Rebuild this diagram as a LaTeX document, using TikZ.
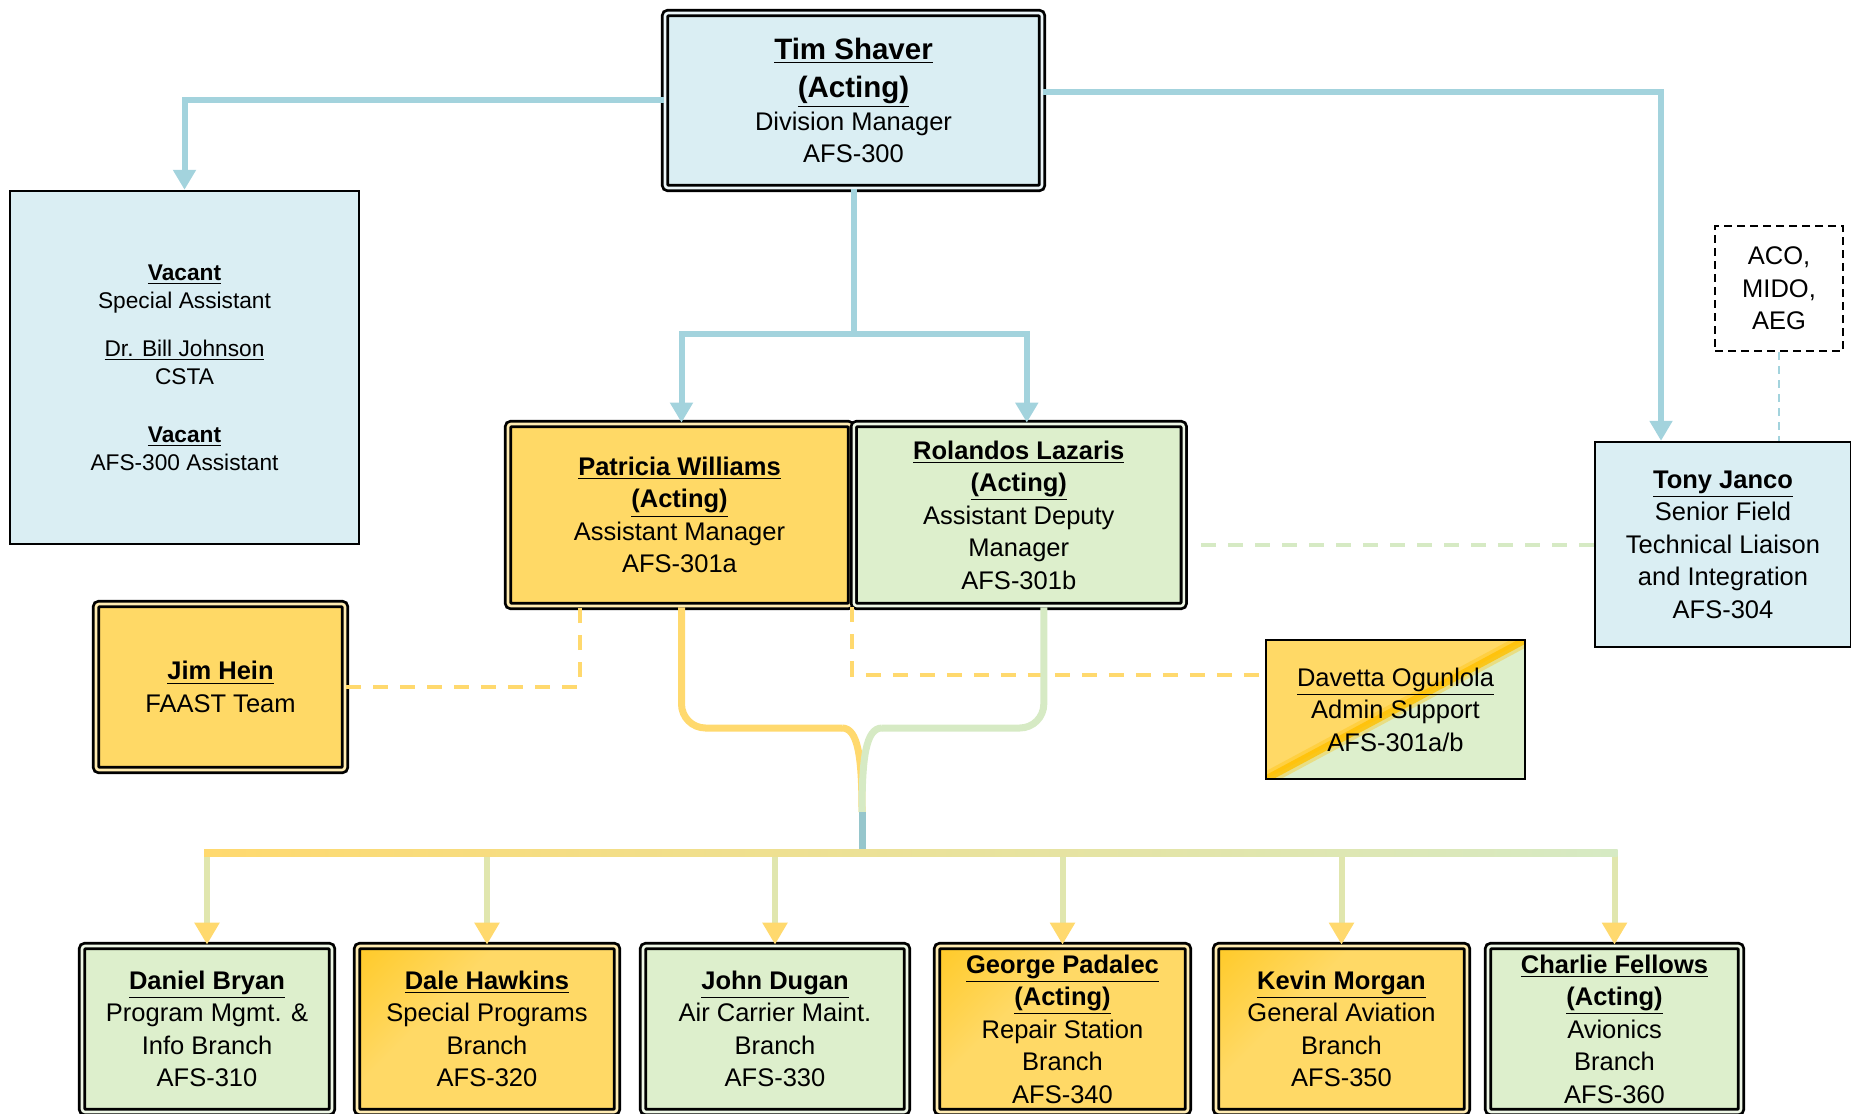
\documentclass[tikz,border=0pt]{standalone}
\usepackage{fontspec}
\setmainfont{Liberation Sans}
\usetikzlibrary{positioning,arrows.meta}

\definecolor{boxblue}{RGB}{218,238,243}
\definecolor{boxgold}{RGB}{255,217,102}
\definecolor{deepgold}{RGB}{255,192,0}
\definecolor{boxgreen}{RGB}{221,239,204}
\definecolor{lineblue}{RGB}{163,211,221}
\definecolor{linegold}{RGB}{255,217,110}
\definecolor{linegreen}{RGB}{214,234,196}
\definecolor{stemblue}{RGB}{150,198,204}

\pgfdeclarehorizontalshading{cornergold}{100bp}{color(0bp)=(deepgold); color(38bp)=(boxgold); color(100bp)=(boxgold)}

\newcommand{\who}[1]{\textbf{\underline{#1}}}
\newcommand{\bigwho}[1]{{\fontsize{14.75}{18}\selectfont\who{#1}}}

\begin{document}
\begin{tikzpicture}[x=0.5pt,y=-0.5pt,
    card/.style={align=center,inner sep=0pt,font=\fontsize{12.75}{16.25}\selectfont},
    plainbox/.style={card,draw=black,line width=1.2pt,fill=#1},
    twinbox/.style={card,draw=black,line width=1.4pt,double=#1!50!white,double distance=1.3pt,fill=#1,rounded corners=1.5pt},
    goldbox/.style={twinbox=boxgold,shading=cornergold,shading angle=-45},
    bluelink/.style={draw=lineblue,line width=3pt},
    bluearrow/.style={bluelink,-{Triangle[width=11pt,length=10pt]}},
    goldlink/.style={draw=linegold,line width=3.5pt},
    greenlink/.style={draw=linegreen,line width=3.5pt},
    droparrow/.style={draw=linegreen!75!linegold,line width=3pt,-{Triangle[width=12pt,length=11pt,color=linegold]}},
    golddash/.style={draw=linegold,line width=2pt,dash pattern=on 7.5pt off 6pt},
    greendash/.style={draw=linegreen,line width=2pt,dash pattern=on 7.5pt off 6pt},
    bluedash/.style={draw=lineblue,line width=1.3pt,dash pattern=on 4pt off 3pt}]
    \useasboundingbox (0,0) rectangle (1851,1113);

    \node[twinbox=boxblue,minimum width=188.5pt,minimum height=87.5pt] (tim) at (853.5,100.5)
        {\bigwho{Tim Shaver}\\[3pt]\bigwho{(Acting)}\\Division Manager\\AFS-300};
    \node[plainbox=boxblue,minimum width=174.5pt,minimum height=176.5pt,font=\fontsize{11.35}{14}\selectfont] (vac) at (184.5,367.5)
        {\who{Vacant}\\Special Assistant\\[10pt]\underline{Dr. Bill Johnson}\\CSTA\\[15pt]\who{Vacant}\\AFS-300 Assistant};
    \node[twinbox=boxgold,minimum width=171.5pt,minimum height=91pt] (pat) at (679.5,515)
        {\who{Patricia Williams}\\\who{(Acting)}\\Assistant Manager\\AFS-301a};
    \node[twinbox=boxgreen,minimum width=165pt,minimum height=91pt,right=0pt of pat] (rol)
        {\who{Rolandos Lazaris}\\\who{(Acting)}\\Assistant Deputy\\Manager\\AFS-301b};
    \node[card,draw=black,line width=1.2pt,dash pattern=on 4pt off 2.5pt,fill=white,minimum width=64pt,minimum height=62.5pt] (aco) at (1779,288.5)
        {ACO,\\MIDO,\\AEG};
    \node[plainbox=boxblue,minimum width=128pt,minimum height=102.5pt] (tony) at (1723,544.5)
        {\who{Tony Janco}\\Senior Field\\Technical Liaison\\and Integration\\AFS-304};
    \node[twinbox=boxgold,minimum width=124.5pt,minimum height=83pt] (jim) at (220.5,687)
        {\who{Jim Hein}\\FAAST Team};
    \node[plainbox=boxgreen,minimum width=129.5pt,minimum height=69.5pt,
        path picture={
            \fill[boxgold] (path picture bounding box.south west) -- (path picture bounding box.north west) -- (path picture bounding box.north east) -- cycle;
            \draw[deepgold,line width=7pt,opacity=.35] (path picture bounding box.south west) -- (path picture bounding box.north east);
            \draw[deepgold,line width=3.5pt,opacity=.8] (path picture bounding box.south west) -- (path picture bounding box.north east);
        }] (dav) at (1395.5,709.5)
        {\underline{Davetta Ogunlola}\\Admin Support\\AFS-301a/b};

    \node[twinbox=boxgreen,minimum width=125pt,minimum height=83pt] (dan) at (207,1029)
        {\who{Daniel Bryan}\\Program Mgmt. \&\\Info Branch\\AFS-310};
    \node[goldbox,minimum width=130pt,minimum height=83pt] (dal) at (487,1029)
        {\who{Dale Hawkins}\\Special Programs\\Branch\\AFS-320};
    \node[twinbox=boxgreen,minimum width=132pt,minimum height=83pt] (joh) at (775,1029)
        {\who{John Dugan}\\Air Carrier Maint.\\Branch\\AFS-330};
    \node[goldbox,minimum width=125.5pt,minimum height=83pt] (geo) at (1062.5,1029)
        {\who{George Padalec}\\\who{(Acting)}\\Repair Station\\Branch\\AFS-340};
    \node[goldbox,minimum width=125.5pt,minimum height=83pt] (kev) at (1341.5,1029)
        {\who{Kevin Morgan}\\General Aviation\\Branch\\AFS-350};
    \node[twinbox=boxgreen,minimum width=126.5pt,minimum height=83pt] (cha) at (1614.5,1029)
        {\who{Charlie Fellows}\\\who{(Acting)}\\Avionics\\Branch\\AFS-360};

    \coordinate (split) at (853.5,334);
    \coordinate (patbend) at (842,728);
    \coordinate (rolbend) at (882,728);
    \coordinate (stem) at (862,812);
    \coordinate (bus) at (862,853);

    \draw[bluearrow] (tim.west) -| (vac.north);
    \draw[bluearrow] ([yshift=4.25pt]tim.east) -| ([xshift=-31pt]tony.north);
    \draw[bluelink] (tim.south) -- (split);
    \draw[bluearrow] (split) -| ([xshift=1pt]pat.north);
    \draw[bluearrow] (split) -| ([xshift=4pt]rol.north);

    \draw[golddash] (jim.east) -| ([xshift=-50pt]pat.south);
    \draw[golddash] (rol.south west) |- ([yshift=17.25pt]dav.west);
    \draw[greendash] (tony.west) -- ([xshift=6pt]tony.west -| rol.east);
    \draw[bluedash] (aco.south) -- (aco.south |- tony.north);

    \draw[goldlink,rounded corners=12pt] ([xshift=1pt]pat.south) |- (patbend);
    \draw[goldlink] (patbend) .. controls +(16,0) and +(0,-55) .. (stem);
    \draw[greenlink,rounded corners=12pt] ([xshift=12.5pt]rol.south) |- (rolbend);
    \draw[greenlink] (rolbend) .. controls +(-16,0) and +(0,-55) .. (stem);
    \draw[draw=stemblue,line width=3.5pt] (stem) -- (bus);

    \draw[droparrow] (bus -| dan.north) -- (dan.north);
    \draw[droparrow] (bus -| dal.north) -- (dal.north);
    \draw[droparrow] (bus -| joh.north) -- (joh.north);
    \draw[droparrow] (bus -| geo.north) -- (geo.north);
    \draw[droparrow] (bus -| kev.north) -- (kev.north);
    \draw[droparrow] (bus -| cha.north) -- (cha.north);
    \shade[left color=linegold,right color=linegreen] ([xshift=-1.5pt]dan.north |- bus) ++(0,-3.5) rectangle ([xshift=1.5pt,yshift=-1.75pt]cha.north |- bus);
\end{tikzpicture}
\end{document}
